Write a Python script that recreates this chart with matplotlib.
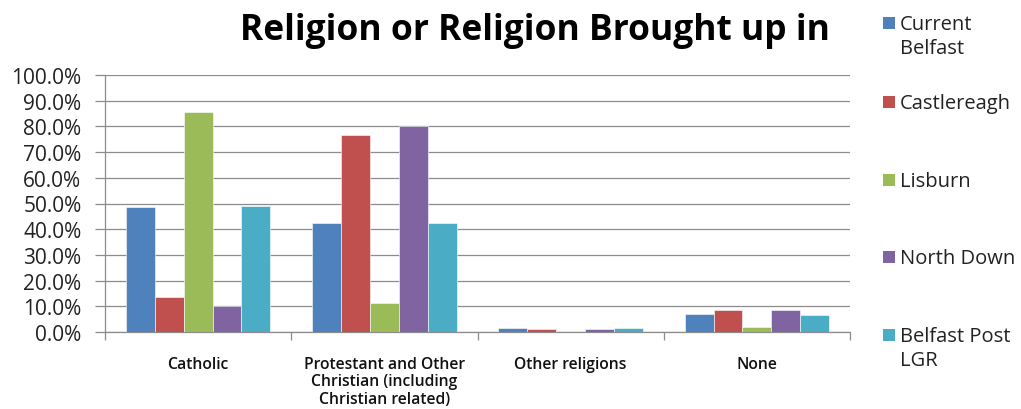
import matplotlib
matplotlib.use("Agg")
import matplotlib.pyplot as plt
import numpy as np
from matplotlib.patches import Rectangle

categories = ["Catholic", "Protestant and Other\nChristian (including\nChristian related)",
              "Other religions", "None"]
series_names = ["Current\nBelfast", "Castlereagh", "Lisburn", "North Down", "Belfast Post\nLGR"]
current_belfast = [48.5, 42.4, 1.4, 7.1]
castlereagh = [13.6, 76.6, 1.0, 8.7]
lisburn = [85.6, 11.3, 0.4, 2.1]
north_down = [10.1, 80.1, 1.0, 8.7]
belfast_post_lgr = [49.0, 42.4, 1.4, 6.8]
yticks = [0, 10, 20, 30, 40, 50, 60, 70, 80, 90, 100]

values = [current_belfast, castlereagh, lisburn, north_down, belfast_post_lgr]
colors = ["#4F81BD", "#C0504D", "#9BBB59", "#8064A2", "#4BACC6"]

plt.rcParams['font.family'] = ['Open Sans', 'DejaVu Sans']

fig = plt.figure(figsize=(10.21, 4.10), dpi=100)
ax = fig.add_axes([105/1021, 1-333/410, (850-105)/1021, (333-76)/410])

x = np.arange(len(categories))
w = 0.155
for i, (vals, c) in enumerate(zip(values, colors)):
    ax.bar(x + (i - 2) * w, vals, width=w, color=c, edgecolor="white", linewidth=0.4, zorder=3)

ax.set_xlim(-0.5, len(categories) - 0.5)
ax.set_ylim(0, 100)
ax.set_yticks(yticks)
ax.set_yticklabels([f"{v:.1f}%" for v in yticks], fontsize=15, color="#222222")
ax.yaxis.grid(True, color="#8c8c8c", linewidth=0.9, zorder=0)
ax.set_axisbelow(True)

ax.set_xticks(x)
ax.set_xticklabels(categories, fontsize=11.3, color="#111111", va="top",
                   fontweight="semibold", linespacing=1.15)
ax.tick_params(axis="x", length=0, pad=17)
ax.set_xticks(np.arange(len(categories) + 1) - 0.5, minor=True)
ax.tick_params(axis="x", which="minor", length=6, color="#8c8c8c", width=0.9)
ax.tick_params(axis="y", length=7, color="#8c8c8c", width=0.9, pad=10)

for s in ["top", "right"]:
    ax.spines[s].set_visible(False)
for s in ["left", "bottom"]:
    ax.spines[s].set_color("#8c8c8c")
    ax.spines[s].set_linewidth(0.9)

fig.text(535/1021, 1-31/410, "Religion or Religion Brought up in", fontsize=25.5,
         fontweight="bold", ha="center", va="center", color="black")

# legend
leg_y = [27, 106, 184, 261, 339]
for name, c, yy in zip(series_names, colors, leg_y):
    fig.patches.append(Rectangle((883/1021, 1-(yy+3)/410), 12/1021, 12/410,
                                 transform=fig.transFigure, facecolor=c, edgecolor="none"))
    fig.text(900/1021, 1-(yy-12)/410, name, fontsize=14.5, ha="left", va="top",
             color="#222222", linespacing=1.25)

fig.savefig("out.png", dpi=100)
